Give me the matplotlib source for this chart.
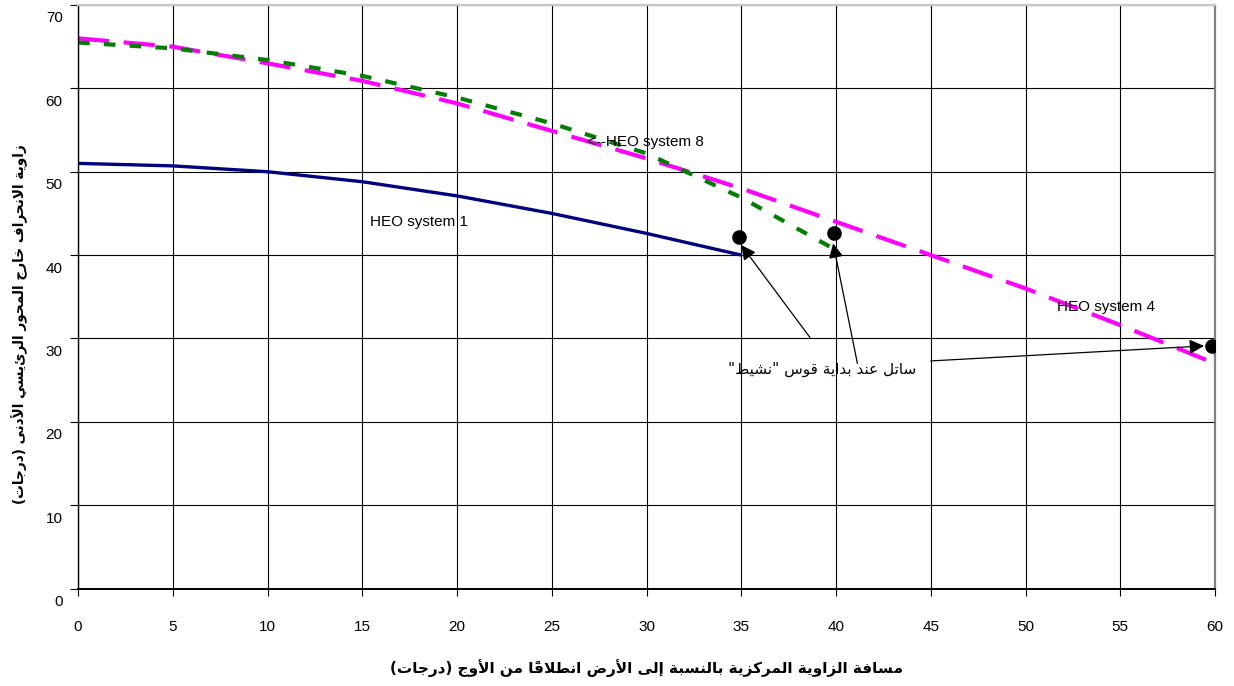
import matplotlib
matplotlib.use('Agg')
import matplotlib.pyplot as plt
import matplotlib.transforms as mtransforms

# data
x_sys1 = [0, 5, 10, 15, 20, 25, 30, 35]
y_sys1 = [51.0, 50.7, 50.0, 48.8, 47.1, 45.0, 42.6, 40.0]

x_sys4 = [0, 5, 10, 15, 20, 25, 30, 35, 40, 45, 50, 55, 60]
y_sys4 = [66.0, 65.0, 63.0, 60.9, 58.2, 54.9, 51.6, 48.0, 44.0, 40.0, 36.0, 31.6, 27.0]

x_sys8 = [0, 5, 10, 15, 20, 25, 30, 35, 40]
y_sys8 = [65.5, 64.8, 63.4, 61.5, 58.9, 55.8, 52.2, 46.9, 40.6]

# satellite markers and the arrows pointing at them
sat_x = [34.9, 39.9, 59.85]
sat_y = [42.2, 42.65, 29.15]
arrow_from_x = [38.63, 41.13, 45.0]
arrow_from_y = [30.1, 27.0, 27.3]
arrow_to_x = [35.0, 39.85, 59.42]
arrow_to_y = [41.2, 41.4, 29.1]

x_ticks = list(range(0, 61, 5))
y_ticks = list(range(0, 71, 10))

x_title = 'مسافة الزاوية المركزية بالنسبة إلى الأرض انطلاقاً من الأوج (درجات)'
y_title = 'زاوية الانحراف خارج المحور الرئيسي الأدنى (درجات)'
note = 'ساتل عند بداية قوس "نشيط"'


# matplotlib has no arabic shaping, so pick the presentation forms by hand
FORMS = {
    '\u0622': ('\uFE81', '\uFE82', None, None),
    '\u0623': ('\uFE83', '\uFE84', None, None),
    '\u0625': ('\uFE87', '\uFE88', None, None),
    '\u0627': ('\uFE8D', '\uFE8E', None, None),
    '\u0628': ('\uFE8F', '\uFE90', '\uFE91', '\uFE92'),
    '\u0629': ('\uFE93', '\uFE94', None, None),
    '\u062A': ('\uFE95', '\uFE96', '\uFE97', '\uFE98'),
    '\u062C': ('\uFE9D', '\uFE9E', '\uFE9F', '\uFEA0'),
    '\u062D': ('\uFEA1', '\uFEA2', '\uFEA3', '\uFEA4'),
    '\u062E': ('\uFEA5', '\uFEA6', '\uFEA7', '\uFEA8'),
    '\u062F': ('\uFEA9', '\uFEAA', None, None),
    '\u0631': ('\uFEAD', '\uFEAE', None, None),
    '\u0632': ('\uFEAF', '\uFEB0', None, None),
    '\u0633': ('\uFEB1', '\uFEB2', '\uFEB3', '\uFEB4'),
    '\u0634': ('\uFEB5', '\uFEB6', '\uFEB7', '\uFEB8'),
    '\u0636': ('\uFEBD', '\uFEBE', '\uFEBF', '\uFEC0'),
    '\u0637': ('\uFEC1', '\uFEC2', '\uFEC3', '\uFEC4'),
    '\u0639': ('\uFEC9', '\uFECA', '\uFECB', '\uFECC'),
    '\u0641': ('\uFED1', '\uFED2', '\uFED3', '\uFED4'),
    '\u0642': ('\uFED5', '\uFED6', '\uFED7', '\uFED8'),
    '\u0643': ('\uFED9', '\uFEDA', '\uFEDB', '\uFEDC'),
    '\u0644': ('\uFEDD', '\uFEDE', '\uFEDF', '\uFEE0'),
    '\u0645': ('\uFEE1', '\uFEE2', '\uFEE3', '\uFEE4'),
    '\u0646': ('\uFEE5', '\uFEE6', '\uFEE7', '\uFEE8'),
    '\u0647': ('\uFEE9', '\uFEEA', '\uFEEB', '\uFEEC'),
    '\u0648': ('\uFEED', '\uFEEE', None, None),
    '\u0649': ('\uFEEF', '\uFEF0', None, None),
    '\u064A': ('\uFEF1', '\uFEF2', '\uFEF3', '\uFEF4'),
}
LAM_ALEF = {'\u0622': ('\uFEF5', '\uFEF6'), '\u0623': ('\uFEF7', '\uFEF8'),
            '\u0625': ('\uFEF9', '\uFEFA'), '\u0627': ('\uFEFB', '\uFEFC')}
MIRROR = {'(': ')', ')': '('}


def arabic(text):
    tokens = []  # [kind, char, marks]
    i = 0
    while i < len(text):
        c = text[i]
        if '\u064B' <= c <= '\u065F' and tokens:
            tokens[-1][2] += c
        elif c == '\u0644' and i + 1 < len(text) and text[i + 1] in LAM_ALEF:
            tokens.append(['lamalef', text[i + 1], ''])
            i += 1
        elif c in FORMS:
            tokens.append(['letter', c, ''])
        else:
            tokens.append(['other', MIRROR.get(c, c), ''])
        i += 1
    out = []
    for k, (kind, c, marks) in enumerate(tokens):
        prev = tokens[k - 1] if k > 0 else None
        nxt = tokens[k + 1] if k + 1 < len(tokens) else None
        join_prev = prev is not None and prev[0] == 'letter' and FORMS[prev[1]][2] is not None
        if kind == 'lamalef':
            glyph = LAM_ALEF[c][1 if join_prev else 0]
        elif kind == 'letter':
            f = FORMS[c]
            join_next = f[2] is not None and nxt is not None and nxt[0] in ('letter', 'lamalef')
            if join_prev and join_next:
                glyph = f[3]
            elif join_prev:
                glyph = f[1]
            elif join_next:
                glyph = f[2]
            else:
                glyph = f[0]
        else:
            glyph = c
        out.append(glyph + marks)
    return ''.join(reversed(out))


plt.rcParams['font.family'] = ['Liberation Sans', 'DejaVu Sans']

fig = plt.figure(figsize=(12.34, 6.86), dpi=100)
ax = fig.add_axes([78 / 1234, 1 - 588.5 / 686, 1137 / 1234, 583.5 / 686])

ax.plot(x_sys1, y_sys1, color='#000080', lw=2.4, solid_capstyle='butt')
ax.plot(x_sys4, y_sys4, color='#FF00FF', lw=3.0, linestyle=(0, (7.5, 3.5)))
ax.plot(x_sys8, y_sys8, color='#008000', lw=3.0, linestyle=(0, (2.8, 3.4)))

for x0, y0, x1, y1 in zip(arrow_from_x, arrow_from_y, arrow_to_x, arrow_to_y):
    ax.annotate('', xy=(x1, y1), xytext=(x0, y0),
                arrowprops=dict(arrowstyle='-|>', color='black', lw=0.9,
                                mutation_scale=22, shrinkA=0, shrinkB=0))
ax.plot(sat_x, sat_y, 'o', color='black', markersize=9.5, zorder=5)

ax.text(15.4, 44.0, 'HEO system 1', fontsize=11, va='center', ha='left')
ax.text(26.85, 53.6, '<--HEO system 8', fontsize=11, va='center', ha='left')
ax.text(51.65, 33.8, 'HEO system 4', fontsize=11, va='center', ha='left')
ax.text(39.25, 26.3, arabic(note), fontsize=11, va='center', ha='center',
        family=['DejaVu Sans'])

ax.set_xlim(0, 60)
ax.set_ylim(0, 70)
ax.set_xticks(x_ticks)
ax.set_yticks(y_ticks)
ax.set_axisbelow(True)
ax.grid(True, color='black', lw=0.8)

ax.tick_params(axis='x', direction='out', length=5, width=0.8, pad=18, labelsize=11)
ax.tick_params(axis='y', direction='out', length=6, width=0.8, pad=5, labelsize=11)
for tick in ax.yaxis.get_major_ticks():
    tick.label1.set_transform(tick.label1.get_transform() +
                              mtransforms.ScaledTranslation(0, -0.12, fig.dpi_scale_trans))

ax.spines['left'].set_color('black')
ax.spines['left'].set_linewidth(1.0)
ax.spines['bottom'].set_color('black')
ax.spines['bottom'].set_linewidth(1.4)
ax.spines['top'].set_color('#c8c8c8')
ax.spines['top'].set_linewidth(1.6)
ax.spines['right'].set_color('#808080')
ax.spines['right'].set_linewidth(1.6)

ax.set_xlabel(arabic(x_title), fontsize=11, fontweight='bold', family=['DejaVu Sans'])
ax.xaxis.set_label_coords(0.5, -0.121)
ax.set_ylabel(arabic(y_title), fontsize=9.8, fontweight='bold', family=['DejaVu Sans'])
ax.yaxis.set_label_coords(-0.044, 0.453)

fig.savefig('out.png', dpi=100)
